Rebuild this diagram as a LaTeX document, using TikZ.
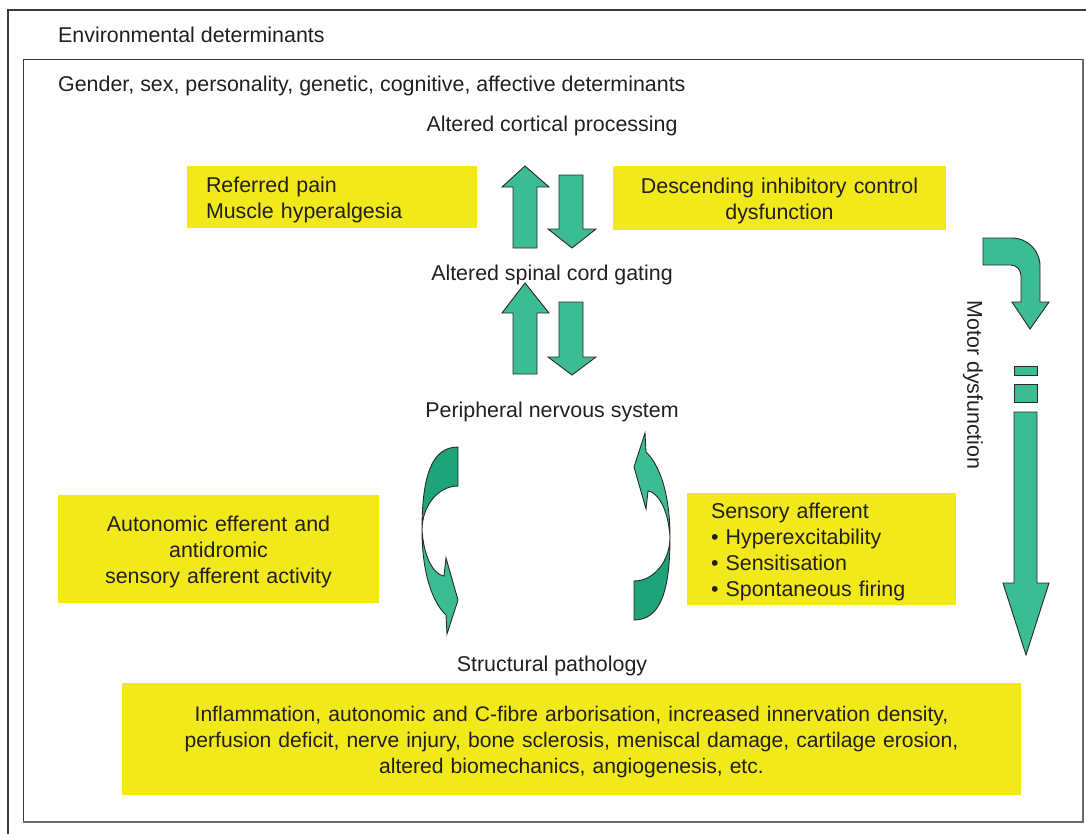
\documentclass[tikz,border=0pt]{standalone}
\usepackage{fontspec}
\setmainfont{Liberation Sans}
\definecolor{ink}{HTML}{231F20}
\definecolor{boxyellow}{HTML}{F2E91A}
\definecolor{lightgreen}{HTML}{3CBC92}
\definecolor{darkgreen}{HTML}{1FA47A}
\definecolor{edgecol}{HTML}{2A2A2A}
\definecolor{framedark}{HTML}{3A3A3A}
\definecolor{frameshade}{HTML}{6A6A6A}
\begin{document}
\begin{tikzpicture}[x=1pt,y=-1pt,
  txt/.style={text=ink, font=\fontsize{21.4}{25.8}\selectfont, inner sep=0pt},
  % the leading strut lowers the text block a little inside its box
  ybox/.style={txt, fill=boxyellow, draw=none, inner ysep=0pt,
    execute at begin node={\rule{0pt}{21.5pt}}},
  blockarrow/.style={draw=edgecol, line width=0.9pt, line join=miter, fill=lightgreen},
  darkpart/.style={draw=edgecol, line width=0.9pt, line join=miter, fill=darkgreen}]

\clip (0,0) rectangle (1086,833);

% frames
\draw[framedark, line width=1.3pt] (8,10) rectangle (1110,860);
\draw[framedark, line width=1pt] (23,822) -- (23,59) -- (1083,59);
\draw[frameshade, line width=2.2pt] (23,822) -- (1083,822) -- (1083,59);

% labels
\node[txt, anchor=base west] (env) at (58,42) {Environmental determinants};
\node[txt, anchor=base west] (gender) at (58,91.5) {Gender, sex, personality, genetic, cognitive, affective determinants};
\node[txt, anchor=base] (cortical) at (552,131.5) {Altered cortical processing};
\node[txt, anchor=base] (spinal) at (552,280.5) {Altered spinal cord gating};
\node[txt, anchor=base] (pns) at (552,417.5) {Peripheral nervous system};
\node[txt, anchor=base] (struct) at (552,671.5) {Structural pathology};
\node[txt, rotate=-90] (motor) at (973,385) {Motor dysfunction};

% yellow boxes
\node[ybox, minimum width=290pt, minimum height=62pt, inner xsep=19pt,
      text width=252pt, align=left] (referred) at (332,197)
  {Referred pain\\Muscle hyperalgesia};
\node[ybox, minimum width=333pt, minimum height=64pt, inner xsep=0pt,
      text width=333pt, align=center] (descending) at (779.5,198)
  {Descending inhibitory control\\dysfunction};
\node[ybox, minimum width=321pt, minimum height=108pt, inner xsep=0pt,
      text width=321pt, align=center] (autonomic) at (218.5,549)
  {Autonomic efferent and\\antidromic\\sensory afferent activity};
\node[ybox, minimum width=269pt, minimum height=112pt, inner xsep=24pt,
      text width=221pt, align=left] (sensory) at (821.5,549)
  {Sensory afferent\\• Hyperexcitability\\• Sensitisation\\• Spontaneous firing};
\node[ybox, font=\fontsize{21.1}{25.8}\selectfont, minimum width=899pt, minimum height=112pt,
      inner xsep=0pt, text width=899pt, align=center] (pathology) at (571.5,739)
  {Inflammation, autonomic and C-fibre arborisation, increased innervation density,\\
   perfusion deficit, nerve injury, bone sclerosis, meniscal damage, cartilage erosion,\\
   altered biomechanics, angiogenesis, etc.};

% straight up/down arrows between levels
\draw[blockarrow] (525,166) -- (549,187) -- (537,187) -- (537,248) -- (513,248) -- (513,187) -- (502,187) -- cycle;
\draw[blockarrow] (559,175) -- (583,175) -- (583,229) -- (596,229) -- (572,248) -- (548,229) -- (559,229) -- cycle;
\draw[blockarrow] (525,283) -- (549,313) -- (537,313) -- (537,374) -- (513,374) -- (513,313) -- (502,313) -- cycle;
\draw[blockarrow] (559,302) -- (583,302) -- (583,357) -- (596,357) -- (572,375) -- (548,357) -- (559,357) -- cycle;

% twisted circular arrows: the right one is the left one turned half a turn
\tikzset{twistarrow/.pic={
  \draw[darkpart] (458,447) .. controls (432,447) and (422,475) .. (422,530)
    .. controls (422,506) and (438,486) .. (458,486) -- cycle;
  \draw[blockarrow] (422,530) .. controls (422,572) and (432,602) .. (446,615)
    -- (447,634) -- (458,600) -- (446,558) -- (444,576)
    .. controls (435,575) and (424,560) .. (422,530) -- cycle;
}}
\pic (leftloop) at (0,0) {twistarrow};
\pic[rotate around={180:(546,533.5)}] (rightloop) at (0,0) {twistarrow};

% motor dysfunction arrow
\draw[blockarrow] (983,238) -- (1012,238) .. controls (1027.5,238) and (1040,250.5) .. (1040,266)
  -- (1040,302) -- (1049,302) -- (1030,329) -- (1012,302) -- (1021,302) -- (1021,276)
  .. controls (1021,270) and (1016.5,265) .. (1011,265) -- (983,265) -- cycle;
\draw[blockarrow] (1014,366) rectangle (1037,375);
\draw[blockarrow] (1014,384) rectangle (1037,402);
\draw[blockarrow] (1014,412) -- (1037,412) -- (1037,583) -- (1049,583) -- (1026,655)
  -- (1003,583) -- (1014,583) -- cycle;

\end{tikzpicture}
\end{document}
